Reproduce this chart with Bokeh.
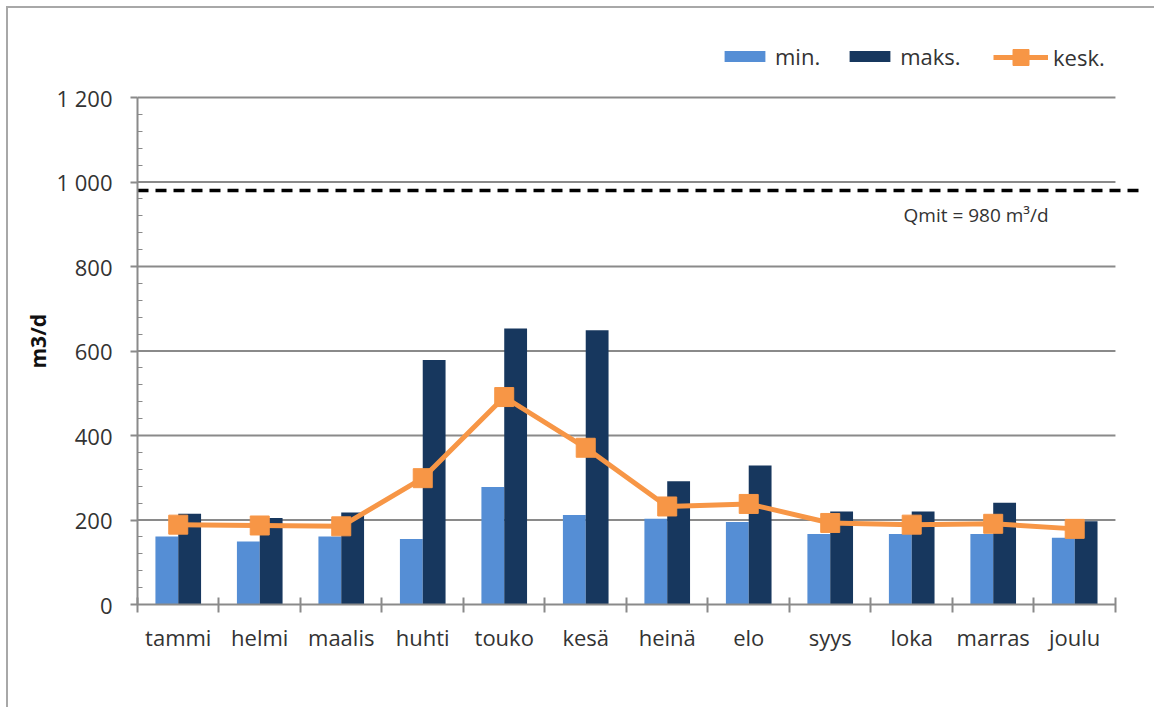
from bokeh.plotting import figure
from bokeh.models import Range1d, FixedTicker, Legend, LegendItem, Label, Title
from bokeh.embed import file_html
from bokeh.resources import INLINE

# Monthly flow statistics (m3/d)
months = ["tammi", "helmi", "maalis", "huhti", "touko", "kesä",
          "heinä", "elo", "syys", "loka", "marras", "joulu"]
min_vals = [161, 149, 161, 155, 278, 212, 203, 195, 167, 167, 167, 158]
max_vals = [215, 205, 218, 579, 653, 649, 292, 329, 220, 220, 241, 197]
avg_vals = [189, 187, 185, 299, 491, 371, 232, 238, 193, 189, 191, 179]
q_mit = 980
y_ticks = [0, 200, 400, 600, 800, 1000, 1200]
y_tick_labels = ["0", "200", "400", "600", "800", "1 000", "1 200"]
y_title = "m3/d"

FONT = "Open Sans"
TXT = "#333333"
GRID = "#8a8a8a"
C_MIN = "#558ED5"
C_MAX = "#17375E"
C_AVG = "#F79646"

n = len(months)
centers = [i + 0.5 for i in range(n)]
bar_w = 0.28

# the figure sits inside a thin grey frame offset from the page corner
OFF = 8
p = figure(width=1156 - OFF, height=709 - OFF, output_backend="svg",
           toolbar_location=None,
           x_range=Range1d(0, 12.43), y_range=Range1d(0, 1358.6),
           min_border_left=137 - OFF, min_border_right=6,
           min_border_top=30 - OFF, min_border_bottom=105)
p.margin = (OFF - 2, 0, 0, OFF - 2)
p.styles = {"border-left": "2px solid #a8a8a8", "border-top": "2px solid #a8a8a8"}
p.outline_line_color = None
p.xgrid.visible = False
p.ygrid.visible = False

# horizontal gridlines limited to the category span
p.segment(x0=[0] * (len(y_ticks) - 1), x1=[n] * (len(y_ticks) - 1),
          y0=y_ticks[1:], y1=y_ticks[1:], line_color=GRID, line_width=2)

r_min = p.vbar(x=[c - bar_w / 2 for c in centers], top=min_vals, width=bar_w,
               fill_color=C_MIN, line_color=None)
r_max = p.vbar(x=[c + bar_w / 2 for c in centers], top=max_vals, width=bar_w,
               fill_color=C_MAX, line_color=None)

# mean flow reference line
p.segment(x0=[0], x1=[12.31], y0=[q_mit], y1=[q_mit], line_color="black",
          line_width=3.5, line_dash="11 7")
p.add_layout(Label(x=9.4, y=q_mit - 57, text=f"Qmit = {q_mit} m³/d",
                   text_font=FONT, text_font_size="19px", text_color=TXT,
                   text_baseline="middle"))

r_line = p.line(centers, avg_vals, line_color=C_AVG, line_width=5)
r_pts = p.scatter(centers, avg_vals, marker="square", size=19,
                  fill_color=C_AVG, line_color=C_AVG)

# axes
xa = p.xaxis[0]
xa.ticker = FixedTicker(ticks=centers, minor_ticks=list(range(n + 1)))
xa.major_label_overrides = {c: m for c, m in zip(centers, months)}
xa.bounds = (0, n)
xa.axis_line_color = GRID
xa.axis_line_width = 2
xa.major_tick_in = 0
xa.major_tick_out = 0
xa.minor_tick_in = 7
xa.minor_tick_out = 8
xa.minor_tick_line_color = GRID
xa.minor_tick_line_width = 2
xa.major_label_standoff = 9
xa.major_label_text_font = FONT
xa.major_label_text_font_size = "22px"
xa.major_label_text_color = TXT

ya = p.yaxis[0]
ya.ticker = FixedTicker(ticks=y_ticks, minor_ticks=list(range(0, 1201, 40)))
ya.major_label_overrides = {t: s for t, s in zip(y_ticks, y_tick_labels)}
ya.bounds = (0, 1200)
ya.axis_line_color = GRID
ya.axis_line_width = 2
ya.major_tick_in = 0
ya.major_tick_out = 7
ya.major_tick_line_color = GRID
ya.major_tick_line_width = 2
ya.minor_tick_in = 5
ya.minor_tick_out = 0
ya.minor_tick_line_color = GRID
ya.minor_tick_line_width = 1
ya.major_label_standoff = 18
ya.major_label_text_font = FONT
ya.major_label_text_font_size = "22px"
ya.major_label_text_color = TXT

# rotated axis title, anchored from the bottom of the frame
p.add_layout(Title(text=y_title, align="left", offset=236, standoff=3,
                   text_font=FONT, text_font_size="21px",
                   text_font_style="bold", text_color="#111111"), "left")

common = dict(orientation="horizontal", label_standoff=5, spacing=24,
              padding=0, margin=0, border_line_color=None,
              background_fill_alpha=0, label_text_font=FONT,
              label_text_font_size="22px", label_text_color=TXT)
legend_bars = Legend(items=[LegendItem(label="min.", renderers=[r_min]),
                            LegendItem(label="maks.", renderers=[r_max])],
                     location=(582, 533), glyph_width=51, glyph_height=14,
                     label_height=20, **common)
legend_avg = Legend(items=[LegendItem(label="kesk.", renderers=[r_line, r_pts])],
                    location=(856, 527), glyph_width=55, glyph_height=40,
                    label_height=40, **common)
p.add_layout(legend_bars, "center")
p.add_layout(legend_avg, "center")

open("out.html", "w").write(file_html(p, INLINE))
